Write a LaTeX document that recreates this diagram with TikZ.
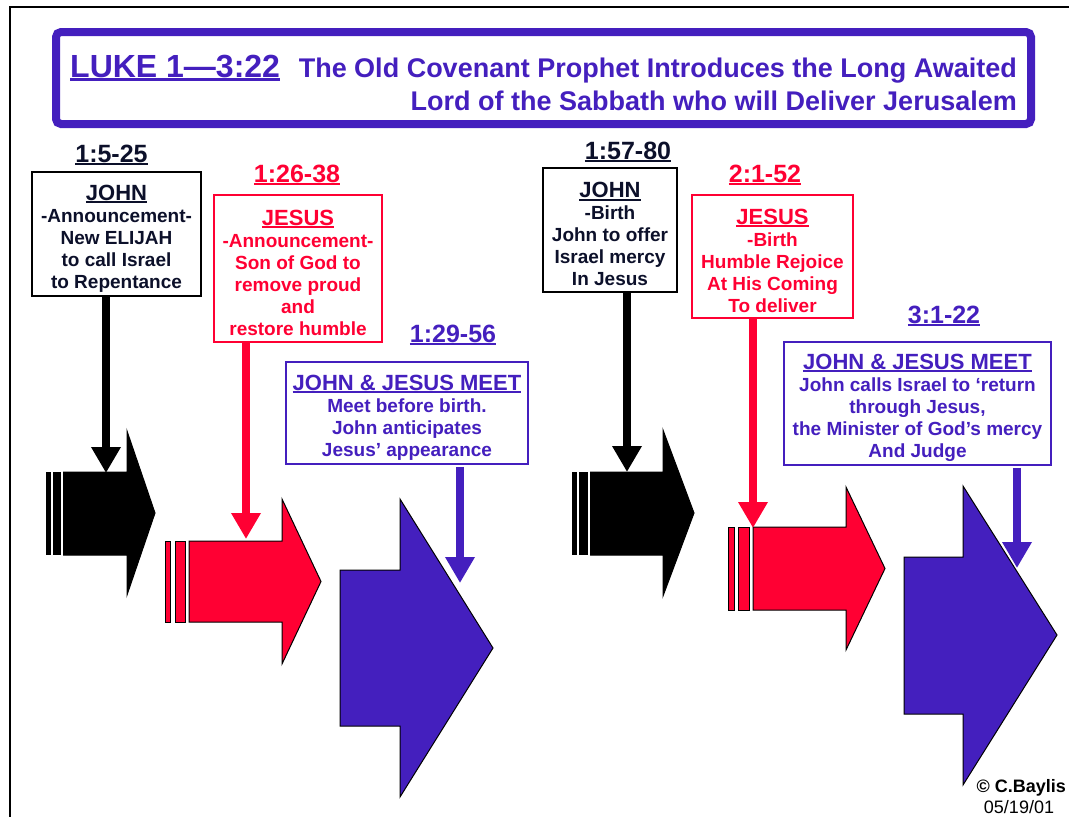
\documentclass[tikz,border=0pt]{standalone}
\usepackage{fontspec}
\setmainfont{Liberation Sans}
\usetikzlibrary{arrows.meta}

\definecolor{lukeblue}{RGB}{68,31,190}
\definecolor{lukered}{RGB}{255,0,51}
\definecolor{lukenavy}{RGB}{12,16,42}

\newcommand{\fsz}[2]{\fontsize{#1}{#2}\selectfont}
\newcommand{\undl}[1]{\setbox0=\hbox{#1}\rlap{\rule[-0.12em]{\wd0}{0.075em}}\box0}
\newcommand{\hd}[1]{{\fsz{22}{22}\rule{0pt}{24pt}\undl{#1}}}

\begin{document}
\begin{tikzpicture}[x=1pt,y=-1pt,
    txt/.style={inner sep=0pt,font=\bfseries},
    textbox/.style={draw,line width=1.5pt,fill=white,inner sep=0pt,align=center,
      font=\bfseries\fsz{19}{22}},
    ref/.style={txt,anchor=base,font=\bfseries\fsz{25}{25}},
    down/.style={line width=8pt,-{Triangle[width=28pt,length=26pt]}},
    blk/.style={draw=black,line width=1pt,line join=miter},
    stripe/.style={draw=black,line width=0.6pt}]
  \useasboundingbox (0,0) rectangle (1069,817);
  \draw[line width=2.5pt] (10,817) -- (10,7) -- (1069,7);

  % title
  \node[draw=lukeblue,line width=8pt,rounded corners=5pt,minimum width=975pt,
    minimum height=92pt] (titlebox) at (543.5,78) {};
  \node[txt,anchor=base west,text=lukeblue,font=\bfseries\fsz{32}{32}] (luke) at (70,77)
    {\undl{LUKE 1—3:22}};
  \node[txt,anchor=base east,text=lukeblue,font=\bfseries\fsz{27}{33}] (tlineA) at (1017,77)
    {The Old Covenant Prophet Introduces the Long Awaited};
  \node[txt,anchor=base east,text=lukeblue,font=\bfseries\fsz{27}{33}] (tlineB) at (1017,110)
    {Lord of the Sabbath who will Deliver Jerusalem};

  % references
  \node[ref,text=lukenavy] (refA) at (111.5,162) {\undl{1:5-25}};
  \node[ref,text=lukered] (refB) at (297,182) {\undl{1:26-38}};
  \node[ref,text=lukeblue] (refC) at (453,342) {\undl{1:29-56}};
  \node[ref,text=lukenavy] (refD) at (628,159) {\undl{1:57-80}};
  \node[ref,text=lukered] (refE) at (765,182) {\undl{2:1-52}};
  \node[ref,text=lukeblue] (refF) at (944,323) {\undl{3:1-22}};

  % boxes
  \node[textbox,draw=black,text=lukenavy,minimum width=169pt,minimum height=124pt]
    (johnA) at (116.5,234) {\hd{JOHN}\\-Announcement-\\New ELIJAH\\to call Israel\\to Repentance};
  \node[textbox,draw=lukered,text=lukered,minimum width=168pt,minimum height=147pt]
    (jesusA) at (298,268.5) {\hd{JESUS}\\-Announcement-\\Son of God to\\remove proud\\and\\restore humble};
  \node[textbox,draw=lukeblue,text=lukeblue,minimum width=242pt,minimum height=102pt]
    (meetA) at (407,413) {\hd{JOHN \& JESUS MEET}\\Meet before birth.\\John anticipates\\Jesus’ appearance};
  \node[textbox,draw=black,text=lukenavy,minimum width=134pt,minimum height=124pt]
    (johnB) at (610,230) {\hd{JOHN}\\-Birth\\John to offer\\Israel mercy\\In Jesus};
  \node[textbox,draw=lukered,text=lukered,minimum width=161pt,minimum height=123pt]
    (jesusB) at (772.5,256.5) {\hd{JESUS}\\-Birth\\Humble Rejoice\\At His Coming\\To deliver};
  \node[textbox,draw=lukeblue,text=lukeblue,minimum width=267pt,minimum height=123pt]
    (meetB) at (917.5,403.5) {\hd{JOHN \& JESUS MEET}\\John calls Israel to ‘return\\through Jesus,\\the Minister of God’s mercy\\And Judge};

  % block arrows
  \draw[stripe,fill=black] (46,472.5) rectangle (50,554.5) (53.5,472.5) rectangle (60.5,554.5);
  \draw[blk,fill=black] (63.5,472) -- (127,472) -- (127,431) -- (155,513) -- (127,595)
    -- (127,555) -- (63.5,555) -- cycle;
  \draw[stripe,fill=lukered] (165,541) rectangle (170,622) (175,541) rectangle (185,622);
  \draw[blk,fill=lukered] (189,541) -- (282,541) -- (282,499) -- (321,581.5) -- (282,664)
    -- (282,622) -- (189,622) -- cycle;
  \draw[blk,fill=lukeblue] (340,570) -- (400,570) -- (400,499) -- (493,648) -- (400,797)
    -- (400,726) -- (340,726) -- cycle;
  \draw[stripe,fill=black] (572,472.5) rectangle (576.5,554.5) (579.5,472.5) rectangle (587.5,554.5);
  \draw[blk,fill=black] (590.5,472) -- (663,472) -- (663,430) -- (694,513) -- (663,596)
    -- (663,555) -- (590.5,555) -- cycle;
  \draw[stripe,fill=lukered] (728,527) rectangle (734,610) (738,527) rectangle (749,610);
  \draw[blk,fill=lukered] (753,527) -- (846,527) -- (846,487) -- (885,568.5) -- (846,650)
    -- (846,610) -- (753,610) -- cycle;
  \draw[blk,fill=lukeblue] (904,557) -- (963,557) -- (963,486) -- (1057,635) -- (963,785)
    -- (963,714) -- (904,714) -- cycle;

  % pointers
  \coordinate (tipA) at (106,473);
  \coordinate (tipB) at (246,539);
  \coordinate (tipC) at (460,583);
  \coordinate (tipD) at (627,472);
  \coordinate (tipE) at (753,528);
  \coordinate (tipF) at (1017,568);
  \draw[down,black] (johnA.south -| tipA) -- (tipA);
  \draw[down,lukered] (jesusA.south -| tipB) -- (tipB);
  \draw[down,lukeblue] ([yshift=-2pt]meetA.south -| tipC) -- (tipC);
  \draw[down,black] (johnB.south -| tipD) -- (tipD);
  \draw[down,lukered] (jesusB.south -| tipE) -- (tipE);
  \draw[down,lukeblue] ([yshift=-2pt]meetB.south -| tipF) -- (tipF);

  \node[txt,anchor=base east,font=\bfseries\fsz{18}{18}] (credit) at (1066,792) {© C.Baylis};
  \node[txt,anchor=base,font=\fsz{18}{18}] (date) at (1019,813) {05/19/01};
\end{tikzpicture}
\end{document}
